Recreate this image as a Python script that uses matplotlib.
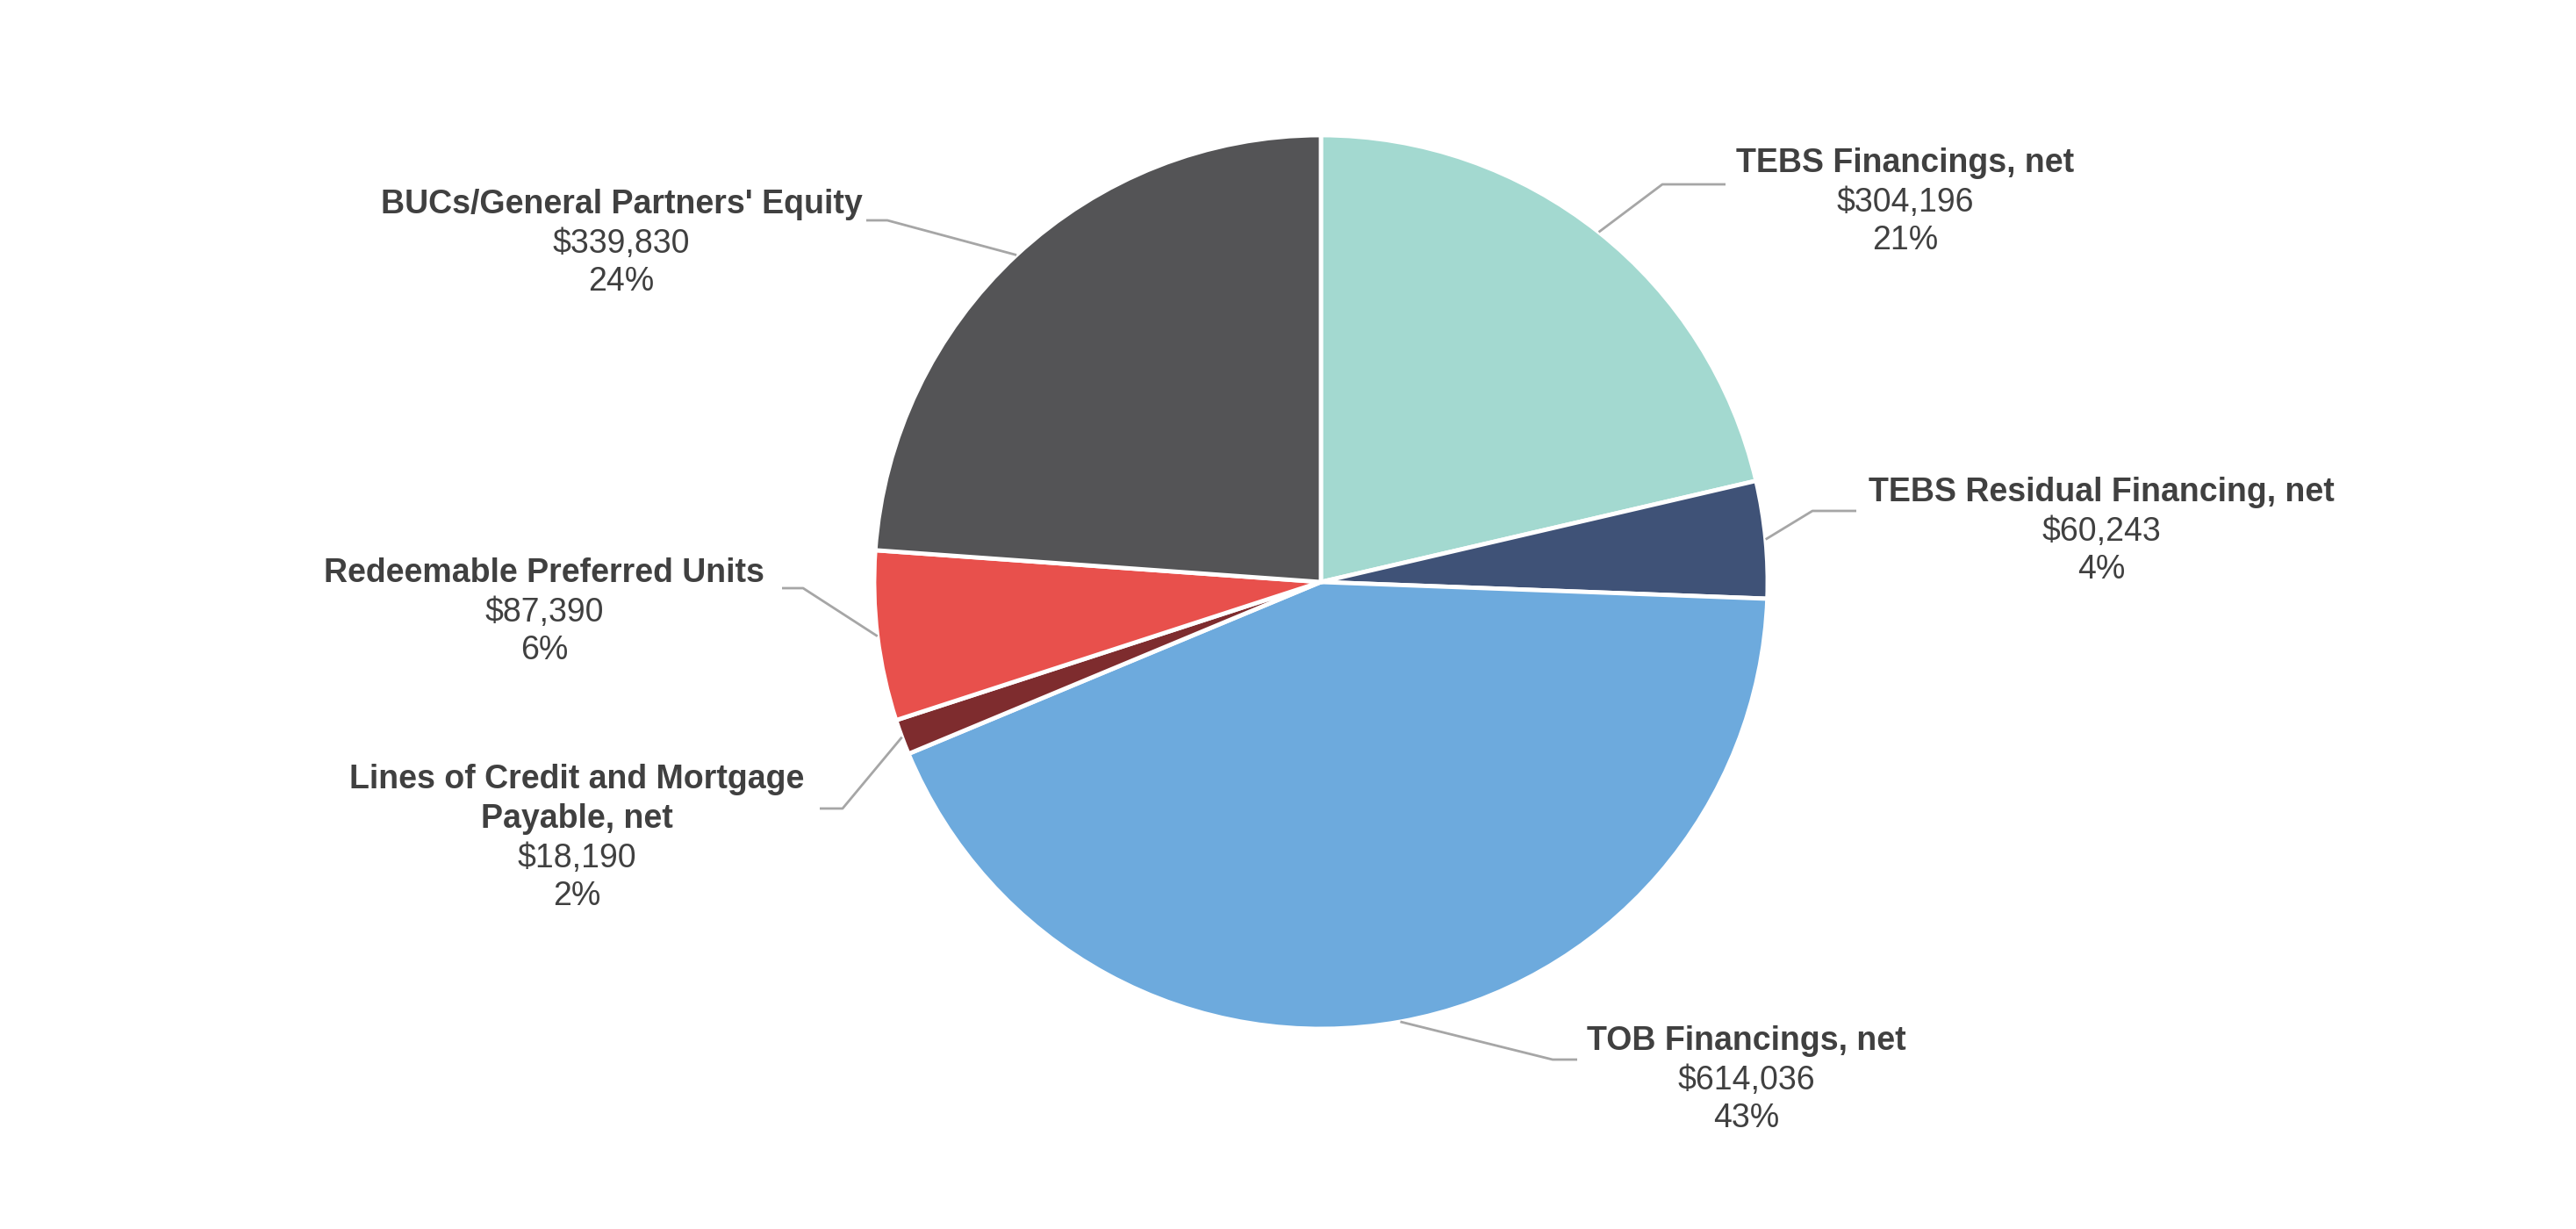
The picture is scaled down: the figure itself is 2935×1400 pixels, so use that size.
import numpy as np
import matplotlib
matplotlib.use("Agg")
import matplotlib.pyplot as plt

# ---- data ----
categories = ["TEBS Financings, net", "TEBS Residual Financing, net", "TOB Financings, net",
              "Lines of Credit and Mortgage\nPayable, net", "Redeemable Preferred Units",
              "BUCs/General Partners' Equity"]
values = [304196, 60243, 614036, 18190, 87390, 339830]
pct_labels = ["21%", "4%", "43%", "2%", "6%", "24%"]
colors = ["#A3D9D0", "#3F5277", "#6DAADD", "#7E2C2E", "#E8504C", "#545456"]

# ---- layout (pixel coords, y from top) ----
W, H = 2935, 1400
center_px = (1505, 663)
radius = 509
# label anchor (centre x, title y), elbow point, leader end point
label_pos = [(2171, 186), (2394, 561), (1990, 1186), (657, 888), (620, 653), (708, 233)]
elbow_pos = [(1894, 210), (2065, 582), (1769, 1207), (960, 921), (915, 670), (1011, 251)]
end_pos = [(1966, 210), (2115, 582), (1797, 1207), (934, 921), (891, 670), (987, 251)]

plt.rcParams['font.family'] = ['Liberation Sans', 'DejaVu Sans']
fig = plt.figure(figsize=(W / 100, H / 100), dpi=100)
ax = fig.add_axes([0, 0, 1, 1])

cx, cy = center_px[0], H - center_px[1]
wedges, _ = ax.pie(values, colors=colors, startangle=90, counterclock=False,
                   center=(cx, cy), radius=radius, frame=True,
                   wedgeprops=dict(edgecolor='white', linewidth=3.5))
ax.set_xlim(0, W)
ax.set_ylim(0, H)
ax.axis('off')

txt_color = "#404040"
line_color = "#A6A6A6"
fs = 27
lh = 43
for i, w in enumerate(wedges):
    mid = np.deg2rad((w.theta1 + w.theta2) / 2)
    sx, sy = cx + radius * np.cos(mid), cy + radius * np.sin(mid)
    ex, ey = elbow_pos[i][0], H - elbow_pos[i][1]
    fx, fy = end_pos[i][0], H - end_pos[i][1]
    ax.plot([sx, ex, fx], [sy, ey, fy], color=line_color, lw=2, solid_capstyle='butt', zorder=1)
    lx, ly = label_pos[i]
    title_lines = categories[i].split("\n")
    y = ly
    for t in title_lines:
        ax.text(lx, H - y, t, ha='center', va='center', fontsize=fs, fontweight='bold', color=txt_color)
        y += lh + 2
    ax.text(lx, H - y, f"${values[i]:,}", ha='center', va='center', fontsize=fs, color=txt_color)
    y += lh
    ax.text(lx, H - y, pct_labels[i], ha='center', va='center', fontsize=fs, color=txt_color)

fig.savefig("out.png", dpi=100, facecolor='white')
